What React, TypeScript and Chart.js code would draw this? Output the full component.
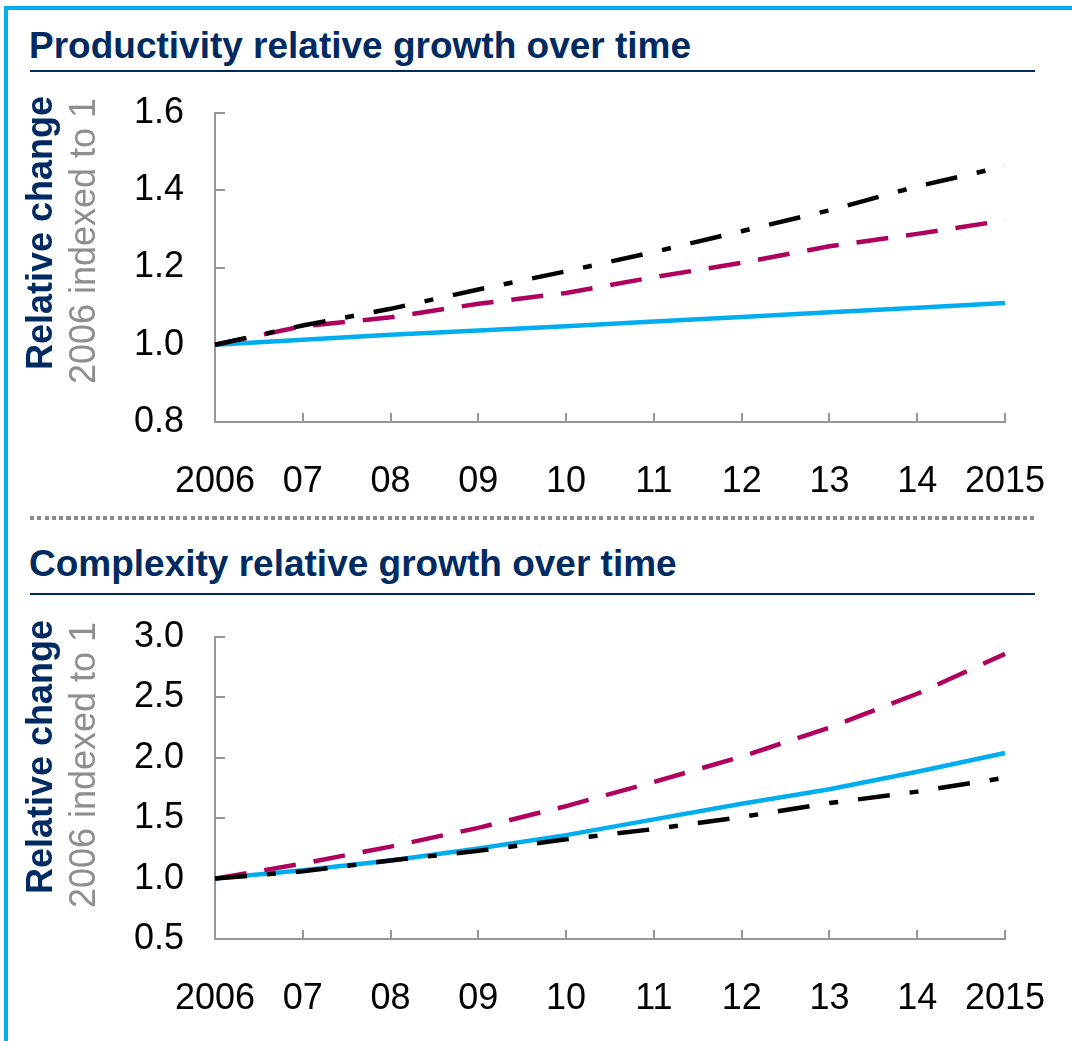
import React, { useEffect, useRef } from 'react';
import { Chart, registerables } from 'chart.js';

Chart.register(...registerables);

// ---------- data ----------
const years = ['2006', '07', '08', '09', '10', '11', '12', '13', '14', '2015'];

const prodTicks = [0.8, 1.0, 1.2, 1.4, 1.6];
const prodBlue = [1.0, 1.013, 1.026, 1.037, 1.048, 1.06, 1.072, 1.084, 1.096, 1.108];
const prodMagenta = [1.0, 1.048, 1.071, 1.106, 1.134, 1.175, 1.212, 1.255, 1.287, 1.322];
const prodBlack = [1.0, 1.05, 1.093, 1.143, 1.19, 1.24, 1.294, 1.348, 1.41, 1.462];

const compTicks = [0.5, 1.0, 1.5, 2.0, 2.5, 3.0];
const compBlue = [1.0, 1.07, 1.15, 1.25, 1.36, 1.49, 1.62, 1.74, 1.885, 2.04];
const compMagenta = [1.0, 1.125, 1.265, 1.42, 1.6, 1.8, 2.01, 2.25, 2.53, 2.86];
const compBlack = [1.0, 1.06, 1.15, 1.23, 1.325, 1.41, 1.51, 1.625, 1.72, 1.835];

const titleProd = 'Productivity relative growth over time';
const titleComp = 'Complexity relative growth over time';
const axisTitleMain = 'Relative change';
const axisTitleSub = '2006 indexed to 1';

// ---------- styles ----------
const FONT = 'Arial, "Liberation Sans", Helvetica, sans-serif';
const NAVY = '#002B62';
const BLUE = '#00AEEF';
const MAGENTA = '#B0005E';
const BLACK = '#000000';
const AXIS = '#969696';
const SUBGRAY = '#8E8E8E';
const W = 1072;
const PLOT_LEFT = 215;
const PLOT_RIGHT = 1005;

const tickPlugin = {
  id: 'inwardTicks',
  beforeDatasetsDraw(chart: any) {
    const { ctx, chartArea, scales } = chart;
    ctx.save();
    ctx.strokeStyle = AXIS;
    ctx.lineWidth = 2;
    const xs = scales.x;
    xs.ticks.forEach((_t: any, i: number) => {
      const px = Math.round(xs.getPixelForTick(i));
      ctx.beginPath();
      ctx.moveTo(px, chartArea.bottom);
      ctx.lineTo(px, chartArea.bottom - 9);
      ctx.stroke();
    });
    const ys = scales.y;
    ys.ticks.forEach((_t: any, i: number) => {
      const py = Math.round(ys.getPixelForTick(i));
      ctx.beginPath();
      ctx.moveTo(chartArea.left, py);
      ctx.lineTo(chartArea.left + 10, py);
      ctx.stroke();
    });
    ctx.restore();
  },
};

const axisTitlePlugin = {
  id: 'axisTitles',
  afterDraw(chart: any) {
    const { ctx, chartArea } = chart;
    ctx.save();
    ctx.textAlign = 'center';
    ctx.textBaseline = 'alphabetic';
    ctx.translate(52, chartArea.top + 120);
    ctx.rotate(-Math.PI / 2);
    ctx.fillStyle = NAVY;
    ctx.font = `bold 36px ${FONT}`;
    ctx.fillText(axisTitleMain, 0, 0);
    ctx.restore();
    ctx.save();
    ctx.textAlign = 'center';
    ctx.textBaseline = 'alphabetic';
    ctx.translate(95, chartArea.top + 128);
    ctx.rotate(-Math.PI / 2);
    ctx.fillStyle = SUBGRAY;
    ctx.font = `36px ${FONT}`;
    ctx.fillText(axisTitleSub, 0, 0);
    ctx.restore();
  },
};

type Props = {
  canvasTop: number;
  canvasHeight: number;
  plotTop: number;
  plotBottom: number;
  ticks: number[];
  blue: number[];
  magenta: number[];
  black: number[];
};

function LineBlock({ canvasTop, canvasHeight, plotTop, plotBottom, ticks, blue, magenta, black }: Props) {
  const ref = useRef<HTMLCanvasElement>(null);
  useEffect(() => {
    const padTop = plotTop - canvasTop;
    const xAxisH = canvasTop + canvasHeight - plotBottom;
    const chart = new Chart(ref.current as HTMLCanvasElement, {
      type: 'line',
      data: {
        labels: years,
        datasets: [
          { label: 'Series C', data: black, borderColor: BLACK, borderDash: [32, 20, 9, 20], borderWidth: 4.5, pointRadius: 0, tension: 0, fill: false },
          { label: 'Series B', data: magenta, borderColor: MAGENTA, borderDash: [32, 18], borderWidth: 4.5, pointRadius: 0, tension: 0, fill: false },
          { label: 'Series A', data: blue, borderColor: BLUE, borderWidth: 4.5, pointRadius: 0, tension: 0, fill: false },
        ],
      },
      options: {
        animation: false,
        responsive: false,
        layout: { padding: { top: padTop, right: W - PLOT_RIGHT, left: 0, bottom: 0 } },
        plugins: { legend: { display: false }, tooltip: { enabled: false } },
        scales: {
          x: {
            type: 'category',
            offset: false,
            grid: { display: false, drawTicks: true, tickLength: 38 },
            border: { display: true, color: AXIS, width: 2 },
            ticks: { autoSkip: false, maxRotation: 0, minRotation: 0, color: '#000', font: { family: FONT, size: 36 }, padding: 0 },
            afterFit: (s: any) => { s.height = xAxisH; },
          },
          y: {
            min: ticks[0],
            max: ticks[ticks.length - 1],
            grid: { display: false, drawTicks: true, tickLength: 31 },
            border: { display: true, color: AXIS, width: 2 },
            ticks: { color: '#000', font: { family: FONT, size: 36 }, padding: 0, callback: (v: any) => Number(v).toFixed(1) },
            afterBuildTicks: (s: any) => { s.ticks = ticks.map((v) => ({ value: v })); },
            afterFit: (s: any) => { s.width = PLOT_LEFT; },
          },
        },
      } as any,
      plugins: [tickPlugin, axisTitlePlugin],
    });
    return () => chart.destroy();
  }, []);
  return (
    <canvas
      ref={ref}
      width={W}
      height={canvasHeight}
      style={{ position: 'absolute', left: 0, top: canvasTop, width: W, height: canvasHeight }}
    />
  );
}

const titleStyle = (top: number): React.CSSProperties => ({
  position: 'absolute',
  left: 29,
  top,
  fontFamily: FONT,
  fontWeight: 'bold',
  fontSize: 37,
  lineHeight: '37px',
  color: NAVY,
  whiteSpace: 'nowrap',
});

export default function App() {
  return (
    <div style={{ position: 'absolute', left: 0, top: 0, width: W, height: 1041, overflow: 'hidden', background: '#fff' }}>
      <div style={{ position: 'absolute', left: 4, top: 6, width: 1300, height: 1300, borderLeft: `4px solid ${BLUE}`, borderTop: `4px solid ${BLUE}` }} />
      <div style={titleStyle(26.7)}>{titleProd}</div>
      <div style={{ position: 'absolute', left: 30, top: 70, width: 1005, height: 2, background: NAVY }} />
      <LineBlock canvasTop={80} canvasHeight={440} plotTop={113} plotBottom={422} ticks={prodTicks} blue={prodBlue} magenta={prodMagenta} black={prodBlack} />
      <div style={{ position: 'absolute', left: 30, top: 516, width: 1004, height: 4, background: 'repeating-linear-gradient(to right, #8a8a8a 0px, #8a8a8a 4px, transparent 4px, transparent 7.3px)' }} />
      <div style={titleStyle(545.4)}>{titleComp}</div>
      <div style={{ position: 'absolute', left: 30, top: 593, width: 1005, height: 2, background: NAVY }} />
      <LineBlock canvasTop={600} canvasHeight={441} plotTop={637} plotBottom={939} ticks={compTicks} blue={compBlue} magenta={compMagenta} black={compBlack} />
    </div>
  );
}
